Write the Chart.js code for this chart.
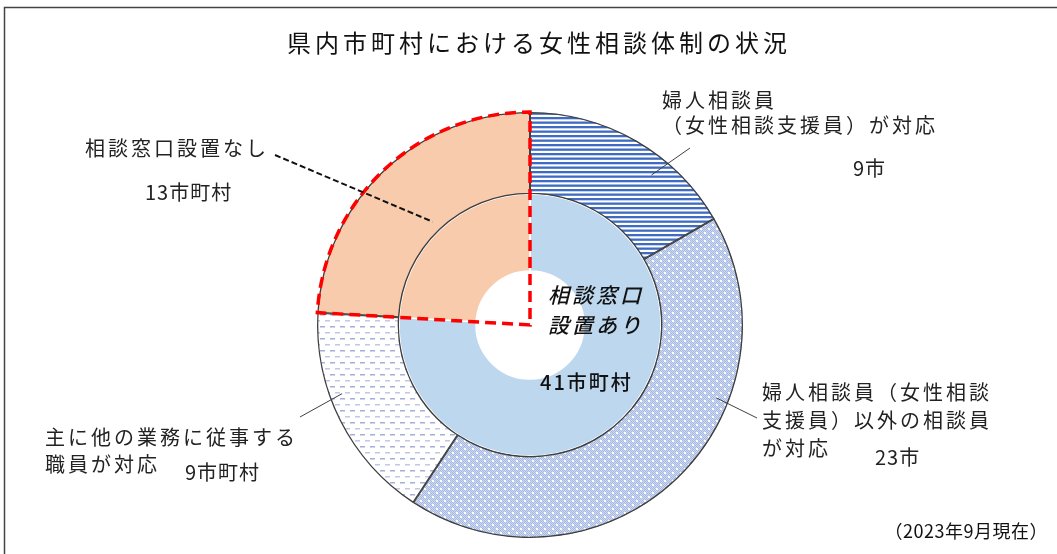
<!DOCTYPE html>
<html lang="ja">
<head>
<meta charset="utf-8">
<script src="https://cdn.jsdelivr.net/npm/chart.js@4.4.1/dist/chart.umd.min.js"></script>
<style>
  html, body { margin: 0; padding: 0; background: #fff; }
  #wrap { width: 1057px; height: 554px; }
</style>
</head>
<body>
<div id="wrap"><canvas id="chart" width="1057" height="554"></canvas></div>
<script>
// データ
const title = '県内市町村における女性相談体制の状況';
const outerLabels = [
  '婦人相談員（女性相談支援員）が対応',
  '婦人相談員（女性相談支援員）以外の相談員が対応',
  '主に他の業務に従事する職員が対応',
  '相談窓口設置なし'
];
const outerValues = [9, 23, 9, 13];
const outerUnits = ['市', '市', '市町村', '市町村'];
const innerLabels = ['相談窓口設置あり', '相談窓口設置なし'];
const innerValues = [41, 13];
const note = '（2023年9月現在）';

// 模様
function makePattern(w, h, draw) {
  const c = document.createElement('canvas');
  c.width = w; c.height = h;
  const g = c.getContext('2d');
  draw(g);
  return g.createPattern(c, 'repeat');
}
const stripes = makePattern(8, 9, g => {
  g.fillStyle = '#fff'; g.fillRect(0, 0, 8, 9);
  g.fillStyle = '#3f6cc2';
  g.fillRect(0, 0, 8, 2.3);
  g.fillRect(0, 4.5, 8, 2.3);
});
const dots = makePattern(8, 8, g => {
  g.fillStyle = '#cfdaf1'; g.fillRect(0, 0, 8, 8);
  g.fillStyle = '#a6b9e3';
  for (let x = 0; x < 8; x++) for (let y = 0; y < 8; y++) if ((x + y) % 2 === 0) g.fillRect(x, y, 1, 1);
  g.fillStyle = '#fff';
  g.fillRect(0, 0, 2, 2);
  g.fillRect(4, 4, 2, 2);
});
const dashes = makePattern(10, 12, g => {
  g.fillStyle = '#fff'; g.fillRect(0, 0, 10, 12);
  g.fillStyle = '#a3b0d8'; g.fillRect(0, 2, 5, 1.5);
  g.fillStyle = '#c0c8e4'; g.fillRect(5, 8, 5, 1.5);
});

const FONT = '"Noto Sans CJK JP", "Noto Sans", sans-serif';

// ラベル配置（キャンバス座標）
const callouts = [
  { seg: 0, lines: ['婦人相談員', '（女性相談支援員）が対応'], x: 662, y: 100, dy: 25,
    count: { x: 853, y: 168 }, lineFrom: [690, 148], frac: 0.65, r: 193 },
  { seg: 1, lines: ['婦人相談員（女性相談', '支援員）以外の相談員', 'が対応'], x: 762, y: 392, dy: 28,
    count: { x: 875, y: 457 }, lineFrom: [757, 418], frac: 0.335, r: 200 },
  { seg: 2, lines: ['主に他の業務に従事する', '職員が対応'], x: 45, y: 437, dy: 27,
    count: { x: 185, y: 472 }, lineFrom: [300, 417], frac: 0.61, r: 200 },
  { seg: 3, lines: ['相談窓口設置なし'], x: 85, y: 148, dy: 27,
    count: { x: 145, y: 192 }, lineFrom: [275, 155], frac: 0.5, r: 142, dashed: true }
];

function pointOn(arc, frac, r) {
  const a = arc.startAngle + frac * (arc.endAngle - arc.startAngle);
  return [arc.x + Math.cos(a) * r, arc.y + Math.sin(a) * r];
}

const annotate = {
  id: 'annotate',
  afterDatasetsDraw(chart) {
    const ctx = chart.ctx;
    const outer = chart.getDatasetMeta(0).data;

    // 相談窓口設置なし の赤い破線
    const o = outer[3];
    ctx.save();
    ctx.beginPath();
    ctx.moveTo(o.x, o.y);
    ctx.arc(o.x, o.y, o.outerRadius, o.startAngle, o.endAngle);
    ctx.closePath();
    ctx.strokeStyle = '#ff0000';
    ctx.lineWidth = 3.5;
    ctx.lineJoin = 'miter';
    ctx.setLineDash([11, 6]);
    ctx.stroke();
    ctx.restore();

    // 引き出し線と文字
    ctx.save();
    ctx.fillStyle = '#222';
    ctx.textBaseline = 'middle';
    ctx.textAlign = 'left';
    callouts.forEach(c => {
      const p = pointOn(outer[c.seg], c.frac, c.r);
      ctx.save();
      ctx.beginPath();
      ctx.moveTo(c.lineFrom[0], c.lineFrom[1]);
      ctx.lineTo(p[0], p[1]);
      if (c.dashed) {
        ctx.strokeStyle = '#111'; ctx.lineWidth = 2; ctx.setLineDash([6, 3]);
      } else {
        ctx.strokeStyle = '#404040'; ctx.lineWidth = 1;
      }
      ctx.stroke();
      ctx.restore();

      ctx.font = '20px ' + FONT;
      ctx.letterSpacing = '3px';
      c.lines.forEach((t, i) => ctx.fillText(t, c.x, c.y + i * c.dy));
      ctx.letterSpacing = '1px';
      ctx.fillText(outerValues[c.seg] + outerUnits[c.seg], c.count.x, c.count.y);
    });

    // 中央の文字
    const yes = innerLabels[0];
    ctx.font = 'italic 500 21px ' + FONT;
    ctx.letterSpacing = '3px';
    ctx.fillStyle = '#111';
    ctx.fillText(yes.slice(0, 4), 548, 295);
    ctx.fillText(yes.slice(4), 548, 325);
    ctx.font = '500 20px ' + FONT;
    ctx.letterSpacing = '2px';
    ctx.fillText(innerValues[0] + '市町村', 540, 382);

    // タイトル
    ctx.font = '24px ' + FONT;
    ctx.letterSpacing = '4px';
    ctx.textAlign = 'center';
    ctx.fillText(title, 539, 43);

    // 注記
    ctx.font = '18px ' + FONT;
    ctx.letterSpacing = '0.5px';
    ctx.textAlign = 'right';
    ctx.fillText(note, 1048, 531);

    // 枠
    ctx.strokeStyle = '#444';
    ctx.lineWidth = 1.5;
    ctx.letterSpacing = '0px';
    ctx.strokeRect(4.5, 7.5, 1100, 600);
    ctx.restore();
  }
};

new Chart(document.getElementById('chart'), {
  type: 'doughnut',
  data: {
    labels: outerLabels,
    datasets: [
      {
        label: '対応状況',
        data: outerValues,
        backgroundColor: [stripes, dots, dashes, '#f8cbad'],
        borderColor: '#404040',
        borderWidth: 1,
        borderAlign: 'inner',
        weight: 82
      },
      {
        label: '設置状況',
        data: innerValues,
        backgroundColor: ['#bdd7ee', '#f8cbad'],
        borderColor: '#ffffff',
        borderWidth: 1.5,
        weight: 77
      }
    ]
  },
  options: {
    responsive: false,
    animation: false,
    devicePixelRatio: 1,
    events: [],
    radius: 213,
    cutout: 54,
    layout: { padding: { top: 112, bottom: 16, left: 317, right: 314 } },
    plugins: {
      legend: { display: false },
      tooltip: { enabled: false },
      title: { display: false }
    }
  },
  plugins: [annotate]
});
</script>
</body>
</html>
